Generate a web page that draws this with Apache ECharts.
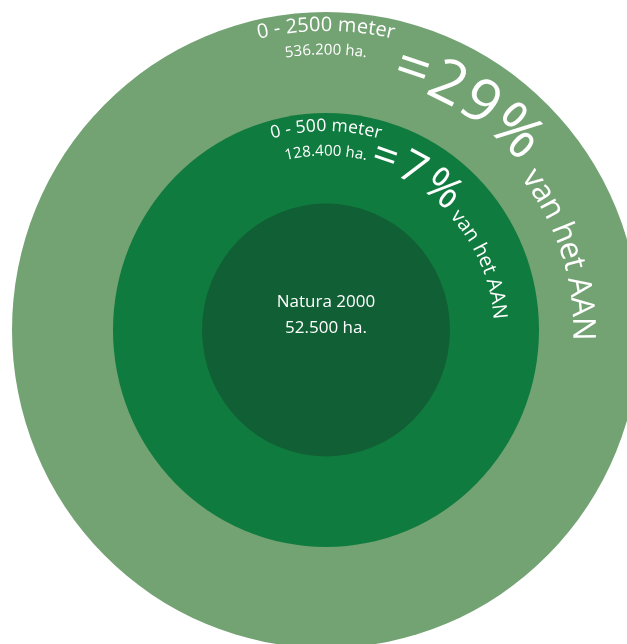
<!DOCTYPE html>
<html>
<head>
<meta charset="utf-8">
<script src="https://cdn.jsdelivr.net/npm/echarts@6/dist/echarts.min.js"></script>
<style>
html,body{margin:0;padding:0;background:#ffffff;}
#chart{width:627px;height:644px;}
</style>
</head>
<body>
<div id="chart"></div>
<script>
// ---- data ----
const zones = ['0 - 2500 meter', '0 - 500 meter', 'Natura 2000'];
const hectares = [536200, 128400, 52500];
const hectareText = ['536.200 ha.', '128.400 ha.', '52.500 ha.'];
const shareText = ['=29%', '=7%', ''];
const shareSuffix = ['van het AAN', 'van het AAN', ''];

// ---- layout / style ----
const CENTER = [326, 330];
const ringSize = [[628, 636], [426, 434], [248, 253]];
const ringColor = ['#73a273', '#107b3f', '#115f34'];
const FONT = '"Open Sans", "Noto Sans", sans-serif';

// curved text specs: r = baseline radius, fs = font size, angles in degrees clockwise from top
const arcSpecs = [
  { text: zones[0], r: 297, fs: 20, center: 0 },
  { text: hectareText[0], r: 274, fs: 15, center: 0 },
  { text: shareText[0], r: 250, fs: 60, start: 14.5, end: 49.5 },
  { text: shareSuffix[0], r: 244, fs: 31.5, start: 52, end: 92.5 },
  { text: zones[1], r: 197, fs: 17.5, center: 0 },
  { text: hectareText[1], r: 173, fs: 15, center: 0 },
  { text: shareText[1], r: 165, fs: 44, start: 14.5, end: 46 },
  { text: shareSuffix[1], r: 166, fs: 20, start: 47.5, end: 86.5 }
];
const straightSpecs = [
  { text: zones[2], baseline: 308.5, fs: 17 },
  { text: hectareText[2], baseline: 335, fs: 17 }
];

const measureCtx = document.createElement('canvas').getContext('2d');
function arcChars(cx, cy, spec) {
  measureCtx.font = spec.fs + 'px ' + FONT;
  const chars = Array.from(spec.text);
  const w = chars.map(ch => measureCtx.measureText(ch).width);
  const total = w.reduce((a, b) => a + b, 0);
  let spacing = 0, start;
  if (spec.end !== undefined) {
    start = spec.start * Math.PI / 180;
    const arc = (spec.end - spec.start) * Math.PI / 180 * spec.r;
    spacing = chars.length > 1 ? (arc - total) / (chars.length - 1) : 0;
  } else {
    start = spec.center * Math.PI / 180 - total / spec.r / 2;
  }
  const rp = spec.r + 0.388 * spec.fs;
  const out = [];
  let cum = 0;
  chars.forEach((ch, i) => {
    const s = cum + w[i] / 2;
    const a = start + s / spec.r;
    cum += w[i] + spacing;
    if (ch === ' ') return;
    out.push({
      type: 'text',
      x: cx + rp * Math.sin(a),
      y: cy - rp * Math.cos(a),
      rotation: -a,
      style: {
        text: ch,
        fontSize: spec.fs,
        fontFamily: FONT,
        fill: '#ffffff',
        align: 'center',
        verticalAlign: 'middle'
      }
    });
  });
  return out;
}

const chart = echarts.init(document.getElementById('chart'), null, { renderer: 'canvas' });

const ringSeries = ringSize.map((s, i) => ({
  type: 'scatter',
  name: zones[i],
  z: i + 1,
  silent: true,
  symbol: 'circle',
  symbolSize: s,
  itemStyle: { color: ringColor[i], opacity: 1 },
  emphasis: { disabled: true },
  data: [{ name: zones[i], value: [CENTER[0], CENTER[1], hectares[i]] }]
}));

const option = {
  animation: false,
  backgroundColor: '#ffffff',
  grid: { left: 0, right: 0, top: 0, bottom: 0 },
  xAxis: { type: 'value', min: 0, max: 627, show: false },
  yAxis: { type: 'value', min: 0, max: 644, inverse: true, show: false },
  series: ringSeries.concat([{
    type: 'custom',
    z: 10,
    silent: true,
    data: [[CENTER[0], CENTER[1]]],
    renderItem: function (params, api) {
      const c = api.coord([api.value(0), api.value(1)]);
      let children = [];
      arcSpecs.forEach(spec => { children = children.concat(arcChars(c[0], c[1], spec)); });
      straightSpecs.forEach(spec => {
        const p = api.coord([api.value(0), spec.baseline]);
        children.push({
          type: 'text',
          x: c[0],
          y: p[1] - 0.388 * spec.fs,
          style: {
            text: spec.text,
            fontSize: spec.fs,
            fontFamily: FONT,
            fill: '#ffffff',
            align: 'center',
            verticalAlign: 'middle'
          }
        });
      });
      return { type: 'group', children: children };
    }
  }])
};
chart.setOption(option);
</script>
</body>
</html>
